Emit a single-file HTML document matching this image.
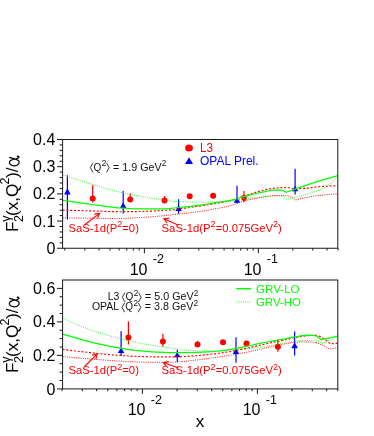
<!DOCTYPE html>
<html><head><meta charset="utf-8"><title>F2 gamma</title>
<style>html,body{margin:0;padding:0;background:#fff;}body{width:374px;height:436px;overflow:hidden;font-family:"Liberation Sans",sans-serif;}</style>
</head><body>
<svg width="374" height="436" viewBox="0 0 374 436" style="display:block;will-change:transform;font-family:'Liberation Sans',sans-serif">
<rect width="374" height="436" fill="#fff"/>
<defs><clipPath id="c1"><rect x="62.6" y="139.5" width="275.2" height="108.75"/></clipPath><clipPath id="c2"><rect x="62.6" y="280.0" width="275.2" height="108.89999999999998"/></clipPath></defs>
<line x1="92.7" y1="185.0" x2="92.7" y2="202.5" stroke="#ff0000" stroke-width="1.2"/>
<circle cx="92.7" cy="198.5" r="3.0" fill="#ff0000"/>
<line x1="130.2" y1="193.2" x2="130.2" y2="202.0" stroke="#ff0000" stroke-width="1.2"/>
<circle cx="130.2" cy="199.6" r="3.0" fill="#ff0000"/>
<line x1="164.5" y1="196.0" x2="164.5" y2="202.0" stroke="#ff0000" stroke-width="1.2"/>
<circle cx="164.5" cy="200.4" r="3.0" fill="#ff0000"/>
<circle cx="189.7" cy="196.3" r="3.0" fill="#ff0000"/>
<circle cx="213.1" cy="195.8" r="3.0" fill="#ff0000"/>
<line x1="244.0" y1="191.0" x2="244.0" y2="202" stroke="#ff0000" stroke-width="1.2"/>
<circle cx="244.0" cy="197.9" r="2.8" fill="#ff0000"/>
<line x1="128.4" y1="321.3" x2="128.4" y2="344.6" stroke="#ff0000" stroke-width="1.2"/>
<circle cx="128.4" cy="337.6" r="3.0" fill="#ff0000"/>
<line x1="162.9" y1="333.8" x2="162.9" y2="346.8" stroke="#ff0000" stroke-width="1.2"/>
<circle cx="162.9" cy="341.5" r="3.0" fill="#ff0000"/>
<line x1="197.5" y1="340.8" x2="197.5" y2="344.5" stroke="#ff0000" stroke-width="1.2"/>
<circle cx="197.5" cy="344.5" r="3.0" fill="#ff0000"/>
<circle cx="223.0" cy="342.3" r="3.0" fill="#ff0000"/>
<circle cx="246.5" cy="343.5" r="3.0" fill="#ff0000"/>
<line x1="277.9" y1="339.2" x2="277.9" y2="351.7" stroke="#ff0000" stroke-width="1.2"/>
<circle cx="277.9" cy="346.8" r="3.0" fill="#ff0000"/>
<line x1="67.4" y1="175.2" x2="67.4" y2="219.4" stroke="#0000ff" stroke-width="1.2"/>
<polygon points="67.4,188.29999999999998 64.10000000000001,194.5 70.7,194.5" fill="#0000ff"/>
<line x1="123.2" y1="191.0" x2="123.2" y2="213.4" stroke="#0000ff" stroke-width="1.2"/>
<polygon points="123.2,202.39999999999998 119.9,208.0 126.5,208.0" fill="#0000ff"/>
<line x1="178.6" y1="199.2" x2="178.6" y2="213.7" stroke="#0000ff" stroke-width="1.2"/>
<polygon points="178.6,205.29999999999998 175.29999999999998,211.0 181.9,211.0" fill="#0000ff"/>
<line x1="237.0" y1="185.7" x2="237.0" y2="203.6" stroke="#0000ff" stroke-width="1.2"/>
<polygon points="237.0,197.29999999999998 233.7,202.79999999999998 240.3,202.79999999999998" fill="#0000ff"/>
<line x1="295.1" y1="168.8" x2="295.1" y2="194.5" stroke="#0000ff" stroke-width="1.2"/>
<polygon points="295.1,185.89999999999998 291.8,191.2 298.40000000000003,191.2" fill="#0000ff"/>
<line x1="121.1" y1="331.3" x2="121.1" y2="356.0" stroke="#0000ff" stroke-width="1.2"/>
<polygon points="121.1,347.4 117.8,353.0 124.39999999999999,353.0" fill="#0000ff"/>
<line x1="177.3" y1="349.4" x2="177.3" y2="362.3" stroke="#0000ff" stroke-width="1.2"/>
<polygon points="177.3,352.2 174.0,357.2 180.60000000000002,357.2" fill="#0000ff"/>
<line x1="236.0" y1="337.2" x2="236.0" y2="362.7" stroke="#0000ff" stroke-width="1.2"/>
<polygon points="236.0,348.59999999999997 232.7,353.9 239.3,353.9" fill="#0000ff"/>
<line x1="294.6" y1="331.6" x2="294.6" y2="355.4" stroke="#0000ff" stroke-width="1.2"/>
<polygon points="294.6,342.2 291.3,348.2 297.90000000000003,348.2" fill="#0000ff"/>
<g clip-path="url(#c1)">
<polyline points="62.6,174.7 63.0,174.8 63.4,174.9 63.8,175.1 64.2,175.2 71.3,177.5 78.5,179.9 85.6,182.3 92.7,184.5 99.0,186.4 105.3,188.3 111.7,190.1 118.0,191.7 124.0,193.1 130.0,194.3 136.0,195.5 142.0,196.6 147.6,197.6 153.2,198.4 158.8,199.3 164.4,200.1 166.8,200.5 169.2,200.9 171.6,201.2 174.0,201.4 179.6,201.7 185.2,201.9 190.9,202.0 196.5,202.1 200.2,202.1 203.9,202.1 207.7,202.1 211.4,202.1 216.1,202.0 220.7,201.8 225.3,201.4 230.0,201.0 233.8,200.5 237.5,199.8 241.2,199.1 245.0,198.6 248.8,198.3 252.5,198.0 256.2,197.8 260.0,197.5 263.8,197.0 267.5,196.5 271.2,196.0 275.0,195.8 276.9,195.8 278.7,195.8 280.5,195.9 282.4,196.0" fill="none" stroke="#00ff00" stroke-width="0.85" stroke-dasharray="1.0 1.25"/>
<polyline points="282.4,196.0 284.5,197.6 286.6,199.5 290.5,198.6 301.0,195.9 308.5,193.6 316.0,191.4 321.5,189.2 326.4,186.5 332.4,182.2 337.8,177.4" fill="none" stroke="#00ff00" stroke-width="0.85" stroke-dasharray="1.0 1.25"/>
<polyline points="62.6,217.9 70.1,218.0 77.7,218.0 85.2,218.1 92.7,218.2 99.0,218.3 105.3,218.4 111.7,218.5 118.0,218.5 123.6,218.4 129.2,218.2 134.9,217.9 140.5,217.6 146.1,217.3 151.8,216.8 157.4,216.3 163.0,215.8 165.8,215.5 168.5,215.2 171.2,214.8 174.0,214.5 179.6,213.9 185.2,213.3 190.9,212.6 196.5,211.9 202.1,211.1 207.7,210.2 213.3,209.2 218.9,208.2 221.7,207.7 224.4,207.1 227.2,206.5 230.0,205.8 233.8,204.7 237.5,203.3 241.2,201.9 245.0,200.8 248.8,199.9 252.5,199.0 256.2,198.3 260.0,197.6 263.8,196.9 267.5,196.3 271.2,195.8 275.0,195.6 277.8,195.6 280.5,195.6 283.2,195.6 286.0,195.6 287.5,195.8 289.0,196.2 290.5,196.8 292.0,197.4" fill="none" stroke="#ff0000" stroke-width="0.95" stroke-dasharray="1.0 1.25"/>
<polyline points="292.0,197.4 295.7,200.1 301.0,198.6 316.0,195.7 337.8,193.7" fill="none" stroke="#ff0000" stroke-width="0.95" stroke-dasharray="1.0 1.25"/>
<polyline points="62.6,210.1 70.1,210.3 77.7,210.5 85.2,210.7 92.7,210.9 99.0,211.1 105.3,211.4 111.7,211.6 118.0,211.7 123.6,211.7 129.2,211.6 134.9,211.6 140.5,211.5 146.1,211.4 151.8,211.1 157.4,210.8 163.0,210.5 165.8,210.3 168.5,210.2 171.2,209.9 174.0,209.7 175.9,209.5 177.8,209.2 179.6,208.9 181.5,208.6 185.2,208.1 189.0,207.6 192.8,207.0 196.5,206.5 202.1,205.7 207.7,204.8 213.3,203.9 218.9,202.9 221.7,202.4 224.4,201.9 227.2,201.3 230.0,200.7 233.8,199.6 237.5,198.4 241.2,197.1 245.0,195.8 248.8,194.6 252.5,193.3 256.2,192.1 260.0,191.1 263.8,190.2 267.5,189.3 271.2,188.6 275.0,188.1 277.8,187.9 280.5,187.7 283.2,187.6 286.0,187.5 288.2,187.7 290.5,188.1 292.8,188.5 295.0,188.7 298.4,188.7 301.8,188.5 305.1,188.3 308.5,188.1 310.4,187.9 312.2,187.6 314.1,187.3 316.0,187.1 319.8,186.7 323.5,186.4 327.2,186.1 331.0,185.9 332.7,185.9 334.4,185.8 336.1,185.8 337.8,185.8" fill="none" stroke="#ff0000" stroke-width="1.15" stroke-dasharray="2.0 1.8"/>
<polyline points="62.6,200.4 63.2,200.5 63.8,200.5 64.4,200.6 65.0,200.7 71.9,201.6 78.8,202.6 85.8,203.6 92.7,204.5 99.0,205.4 105.3,206.3 111.7,207.2 118.0,207.8 123.6,208.2 129.2,208.5 134.9,208.8 140.5,208.9 146.1,208.9 151.8,208.9 157.4,208.9 163.0,208.9 165.8,208.8 168.5,208.6 171.2,208.3 174.0,208.0 179.6,207.5 185.2,206.9 190.9,206.3 196.5,205.6 202.1,204.8 207.7,204.0 213.3,203.1 218.9,202.2 221.7,201.8 224.4,201.4 227.2,200.9 230.0,200.4 233.8,199.5 237.5,198.5 241.2,197.3 245.0,196.3 248.8,195.3 252.5,194.4 256.2,193.5 260.0,192.7 263.8,191.9 267.5,191.0 271.2,190.4 275.0,190.1 276.7,190.1 278.4,190.1 280.0,190.1 281.7,190.1" fill="none" stroke="#00ff00" stroke-width="1.2" stroke-linejoin="round"/>
<polyline points="281.7,190.1 286.2,192.3 295.0,189.1 316.0,181.9 337.8,175.6" fill="none" stroke="#00ff00" stroke-width="1.2" stroke-linejoin="round"/>
</g>
<g clip-path="url(#c2)">
<polyline points="62.6,317.9 66.2,319.7 69.8,321.5 73.4,323.1 77.0,324.7 80.8,326.2 84.5,327.7 88.2,329.1 92.0,330.4 95.8,331.7 99.5,332.9 103.2,334.1 107.0,335.2 109.8,335.9 112.5,336.6 115.2,337.3 118.0,338.0 123.6,339.4 129.2,340.8 134.9,342.1 140.5,343.3 146.1,344.3 151.8,345.3 157.4,346.1 163.0,347.0 165.8,347.4 168.5,347.8 171.2,348.2 174.0,348.6 177.8,349.1 181.5,349.6 185.2,350.1 189.0,350.4 192.8,350.6 196.5,350.8 200.2,350.9 204.0,351.0 207.8,351.0 211.5,351.0 215.2,350.9 219.0,350.9 221.8,350.8 224.5,350.6 227.2,350.4 230.0,350.2 233.8,349.9 237.5,349.6 241.2,349.3 245.0,349.0 248.8,348.6 252.5,348.2 256.2,347.7 260.0,347.2 263.8,346.6 267.5,346.0 271.2,345.3 275.0,344.6 277.8,344.1 280.5,343.6 283.2,343.2 286.0,342.7 288.2,342.3 290.5,341.9 292.8,341.5 295.0,341.2 298.4,340.9 301.8,340.6 305.1,340.5 308.5,340.4 310.4,340.4 312.2,340.5 314.1,340.6 316.0,340.7" fill="none" stroke="#00ff00" stroke-width="0.85" stroke-dasharray="1.0 1.25"/>
<polyline points="316.0,340.7 319.0,341.9 322.0,343.4 326.5,341.7 331.0,339.7 337.8,336.7" fill="none" stroke="#00ff00" stroke-width="0.85" stroke-dasharray="1.0 1.25"/>
<polyline points="62.6,356.6 70.0,357.3 77.3,357.9 84.7,358.5 92.0,359.1 98.5,359.6 105.0,360.1 111.5,360.6 118.0,361.0 123.6,361.3 129.2,361.7 134.9,361.9 140.5,362.1 146.1,362.2 151.8,362.3 157.4,362.4 163.0,362.4 165.8,362.4 168.5,362.3 171.2,362.2 174.0,362.1 179.6,361.8 185.2,361.3 190.9,360.6 196.5,360.0 202.1,359.3 207.8,358.5 213.4,357.7 219.0,356.9 221.8,356.5 224.5,356.1 227.2,355.6 230.0,355.2 233.8,354.6 237.5,354.0 241.2,353.3 245.0,352.6 248.8,351.8 252.5,351.0 256.2,350.2 260.0,349.3 263.8,348.4 267.5,347.5 271.2,346.6 275.0,345.8 277.8,345.2 280.5,344.7 283.2,344.2 286.0,343.7 288.2,343.3 290.5,342.9 292.8,342.5 295.0,342.3 298.4,342.1 301.8,342.0 305.1,341.9 308.5,341.9 310.4,342.0 312.2,342.2 314.1,342.4 316.0,342.7" fill="none" stroke="#ff0000" stroke-width="0.95" stroke-dasharray="1.0 1.25"/>
<polyline points="316.0,342.7 319.5,344.0 323.4,345.7 326.5,347.3 329.4,349.1 337.8,347.6" fill="none" stroke="#ff0000" stroke-width="0.95" stroke-dasharray="1.0 1.25"/>
<polyline points="62.6,349.4 70.0,350.3 77.3,351.2 84.7,352.0 92.0,352.8 98.5,353.5 105.0,354.2 111.5,354.8 118.0,355.3 123.6,355.7 129.2,356.0 134.9,356.3 140.5,356.5 146.1,356.6 151.8,356.8 157.4,356.9 163.0,356.9 165.8,356.9 168.5,356.9 171.2,356.9 174.0,356.9 179.6,356.8 185.2,356.5 190.9,356.1 196.5,355.7 202.1,355.2 207.8,354.6 213.4,353.9 219.0,353.2 221.8,352.8 224.5,352.5 227.2,352.0 230.0,351.6 233.8,350.9 237.5,350.2 241.2,349.4 245.0,348.6 248.8,347.8 252.5,346.9 256.2,346.1 260.0,345.2 263.8,344.4 267.5,343.5 271.2,342.7 275.0,341.9 277.8,341.3 280.5,340.8 283.2,340.3 286.0,339.7 288.2,339.2 290.5,338.6 292.8,338.0 295.0,337.5 298.4,336.9 301.8,336.3 305.1,335.9 308.5,335.6 310.4,335.5 312.2,335.4 314.1,335.3 316.0,335.3 316.8,335.4 317.5,335.5 318.2,335.8 319.0,336.0" fill="none" stroke="#ff0000" stroke-width="1.15" stroke-dasharray="2.0 1.8"/>
<polyline points="319.0,336.0 322.5,338.0 326.4,340.4 330.2,343.7 337.8,343.4" fill="none" stroke="#ff0000" stroke-width="1.15" stroke-dasharray="2.0 1.8"/>
<polyline points="62.6,334.2 66.2,335.2 69.8,336.2 73.4,337.2 77.0,338.2 80.8,339.3 84.5,340.4 88.2,341.4 92.0,342.4 95.8,343.3 99.5,344.1 103.2,344.9 107.0,345.7 109.8,346.3 112.5,346.8 115.2,347.3 118.0,347.8 123.6,348.7 129.2,349.6 134.9,350.3 140.5,350.9 146.1,351.4 151.8,351.8 157.4,352.1 163.0,352.4 165.8,352.5 168.5,352.6 171.2,352.7 174.0,352.7 179.6,352.7 185.2,352.6 190.9,352.5 196.5,352.4 202.1,352.2 207.8,351.9 213.4,351.5 219.0,351.0 221.8,350.7 224.5,350.3 227.2,349.9 230.0,349.4 233.8,348.8 237.5,348.1 241.2,347.3 245.0,346.6 248.8,345.8 252.5,345.0 256.2,344.2 260.0,343.4 263.8,342.7 267.5,342.0 271.2,341.3 275.0,340.6 277.8,340.1 280.5,339.7 283.2,339.2 286.0,338.7 288.2,338.2 290.5,337.7 292.8,337.2 295.0,336.8 298.4,336.3 301.8,335.7 305.1,335.4 308.5,335.2 310.4,335.3 312.2,335.4 314.1,335.7 316.0,336.0" fill="none" stroke="#00ff00" stroke-width="1.2" stroke-linejoin="round"/>
<polyline points="316.0,336.0 318.8,337.8 321.3,339.7 326.0,338.7 331.0,337.7 337.8,336.0" fill="none" stroke="#00ff00" stroke-width="1.2" stroke-linejoin="round"/>
</g>
<rect x="62.6" y="139.5" width="275.2" height="108.75" fill="none" stroke="#1a1a1a" stroke-width="1.0"/>
<rect x="62.6" y="280.0" width="275.2" height="108.89999999999998" fill="none" stroke="#1a1a1a" stroke-width="1.0"/>
<line x1="57.0" y1="248.25" x2="62.6" y2="248.25" stroke="#1a1a1a" stroke-width="1"/>
<line x1="59.6" y1="242.81" x2="62.6" y2="242.81" stroke="#1a1a1a" stroke-width="1"/>
<line x1="59.6" y1="237.38" x2="62.6" y2="237.38" stroke="#1a1a1a" stroke-width="1"/>
<line x1="59.6" y1="231.94" x2="62.6" y2="231.94" stroke="#1a1a1a" stroke-width="1"/>
<line x1="59.6" y1="226.50" x2="62.6" y2="226.50" stroke="#1a1a1a" stroke-width="1"/>
<line x1="57.0" y1="221.06" x2="62.6" y2="221.06" stroke="#1a1a1a" stroke-width="1"/>
<line x1="59.6" y1="215.62" x2="62.6" y2="215.62" stroke="#1a1a1a" stroke-width="1"/>
<line x1="59.6" y1="210.19" x2="62.6" y2="210.19" stroke="#1a1a1a" stroke-width="1"/>
<line x1="59.6" y1="204.75" x2="62.6" y2="204.75" stroke="#1a1a1a" stroke-width="1"/>
<line x1="59.6" y1="199.31" x2="62.6" y2="199.31" stroke="#1a1a1a" stroke-width="1"/>
<line x1="57.0" y1="193.88" x2="62.6" y2="193.88" stroke="#1a1a1a" stroke-width="1"/>
<line x1="59.6" y1="188.44" x2="62.6" y2="188.44" stroke="#1a1a1a" stroke-width="1"/>
<line x1="59.6" y1="183.00" x2="62.6" y2="183.00" stroke="#1a1a1a" stroke-width="1"/>
<line x1="59.6" y1="177.56" x2="62.6" y2="177.56" stroke="#1a1a1a" stroke-width="1"/>
<line x1="59.6" y1="172.12" x2="62.6" y2="172.12" stroke="#1a1a1a" stroke-width="1"/>
<line x1="57.0" y1="166.69" x2="62.6" y2="166.69" stroke="#1a1a1a" stroke-width="1"/>
<line x1="59.6" y1="161.25" x2="62.6" y2="161.25" stroke="#1a1a1a" stroke-width="1"/>
<line x1="59.6" y1="155.81" x2="62.6" y2="155.81" stroke="#1a1a1a" stroke-width="1"/>
<line x1="59.6" y1="150.38" x2="62.6" y2="150.38" stroke="#1a1a1a" stroke-width="1"/>
<line x1="59.6" y1="144.94" x2="62.6" y2="144.94" stroke="#1a1a1a" stroke-width="1"/>
<line x1="57.0" y1="139.50" x2="62.6" y2="139.50" stroke="#1a1a1a" stroke-width="1"/>
<line x1="57.0" y1="388.90" x2="62.6" y2="388.90" stroke="#1a1a1a" stroke-width="1"/>
<line x1="59.6" y1="380.52" x2="62.6" y2="380.52" stroke="#1a1a1a" stroke-width="1"/>
<line x1="59.6" y1="372.15" x2="62.6" y2="372.15" stroke="#1a1a1a" stroke-width="1"/>
<line x1="59.6" y1="363.77" x2="62.6" y2="363.77" stroke="#1a1a1a" stroke-width="1"/>
<line x1="57.0" y1="355.39" x2="62.6" y2="355.39" stroke="#1a1a1a" stroke-width="1"/>
<line x1="59.6" y1="347.02" x2="62.6" y2="347.02" stroke="#1a1a1a" stroke-width="1"/>
<line x1="59.6" y1="338.64" x2="62.6" y2="338.64" stroke="#1a1a1a" stroke-width="1"/>
<line x1="59.6" y1="330.26" x2="62.6" y2="330.26" stroke="#1a1a1a" stroke-width="1"/>
<line x1="57.0" y1="321.88" x2="62.6" y2="321.88" stroke="#1a1a1a" stroke-width="1"/>
<line x1="59.6" y1="313.51" x2="62.6" y2="313.51" stroke="#1a1a1a" stroke-width="1"/>
<line x1="59.6" y1="305.13" x2="62.6" y2="305.13" stroke="#1a1a1a" stroke-width="1"/>
<line x1="59.6" y1="296.75" x2="62.6" y2="296.75" stroke="#1a1a1a" stroke-width="1"/>
<line x1="57.0" y1="288.38" x2="62.6" y2="288.38" stroke="#1a1a1a" stroke-width="1"/>
<line x1="64.72" y1="248.25" x2="64.72" y2="250.55" stroke="#1a1a1a" stroke-width="1"/>
<line x1="84.79" y1="248.25" x2="84.79" y2="250.55" stroke="#1a1a1a" stroke-width="1"/>
<line x1="99.03" y1="248.25" x2="99.03" y2="250.55" stroke="#1a1a1a" stroke-width="1"/>
<line x1="110.08" y1="248.25" x2="110.08" y2="250.55" stroke="#1a1a1a" stroke-width="1"/>
<line x1="119.11" y1="248.25" x2="119.11" y2="250.55" stroke="#1a1a1a" stroke-width="1"/>
<line x1="126.74" y1="248.25" x2="126.74" y2="250.55" stroke="#1a1a1a" stroke-width="1"/>
<line x1="133.35" y1="248.25" x2="133.35" y2="250.55" stroke="#1a1a1a" stroke-width="1"/>
<line x1="139.18" y1="248.25" x2="139.18" y2="250.55" stroke="#1a1a1a" stroke-width="1"/>
<line x1="144.40" y1="248.25" x2="144.40" y2="253.25" stroke="#1a1a1a" stroke-width="1"/>
<line x1="178.72" y1="248.25" x2="178.72" y2="250.55" stroke="#1a1a1a" stroke-width="1"/>
<line x1="198.79" y1="248.25" x2="198.79" y2="250.55" stroke="#1a1a1a" stroke-width="1"/>
<line x1="213.03" y1="248.25" x2="213.03" y2="250.55" stroke="#1a1a1a" stroke-width="1"/>
<line x1="224.08" y1="248.25" x2="224.08" y2="250.55" stroke="#1a1a1a" stroke-width="1"/>
<line x1="233.11" y1="248.25" x2="233.11" y2="250.55" stroke="#1a1a1a" stroke-width="1"/>
<line x1="240.74" y1="248.25" x2="240.74" y2="250.55" stroke="#1a1a1a" stroke-width="1"/>
<line x1="247.35" y1="248.25" x2="247.35" y2="250.55" stroke="#1a1a1a" stroke-width="1"/>
<line x1="253.18" y1="248.25" x2="253.18" y2="250.55" stroke="#1a1a1a" stroke-width="1"/>
<line x1="258.40" y1="248.25" x2="258.40" y2="253.25" stroke="#1a1a1a" stroke-width="1"/>
<line x1="292.72" y1="248.25" x2="292.72" y2="250.55" stroke="#1a1a1a" stroke-width="1"/>
<line x1="312.79" y1="248.25" x2="312.79" y2="250.55" stroke="#1a1a1a" stroke-width="1"/>
<line x1="327.03" y1="248.25" x2="327.03" y2="250.55" stroke="#1a1a1a" stroke-width="1"/>
<line x1="338.08" y1="248.25" x2="338.08" y2="250.55" stroke="#1a1a1a" stroke-width="1"/>
<line x1="62.02" y1="388.9" x2="62.02" y2="391.2" stroke="#1a1a1a" stroke-width="1"/>
<line x1="82.27" y1="388.9" x2="82.27" y2="391.2" stroke="#1a1a1a" stroke-width="1"/>
<line x1="96.64" y1="388.9" x2="96.64" y2="391.2" stroke="#1a1a1a" stroke-width="1"/>
<line x1="107.78" y1="388.9" x2="107.78" y2="391.2" stroke="#1a1a1a" stroke-width="1"/>
<line x1="116.89" y1="388.9" x2="116.89" y2="391.2" stroke="#1a1a1a" stroke-width="1"/>
<line x1="124.59" y1="388.9" x2="124.59" y2="391.2" stroke="#1a1a1a" stroke-width="1"/>
<line x1="131.26" y1="388.9" x2="131.26" y2="391.2" stroke="#1a1a1a" stroke-width="1"/>
<line x1="137.14" y1="388.9" x2="137.14" y2="391.2" stroke="#1a1a1a" stroke-width="1"/>
<line x1="142.40" y1="388.9" x2="142.40" y2="393.9" stroke="#1a1a1a" stroke-width="1"/>
<line x1="177.02" y1="388.9" x2="177.02" y2="391.2" stroke="#1a1a1a" stroke-width="1"/>
<line x1="197.27" y1="388.9" x2="197.27" y2="391.2" stroke="#1a1a1a" stroke-width="1"/>
<line x1="211.64" y1="388.9" x2="211.64" y2="391.2" stroke="#1a1a1a" stroke-width="1"/>
<line x1="222.78" y1="388.9" x2="222.78" y2="391.2" stroke="#1a1a1a" stroke-width="1"/>
<line x1="231.89" y1="388.9" x2="231.89" y2="391.2" stroke="#1a1a1a" stroke-width="1"/>
<line x1="239.59" y1="388.9" x2="239.59" y2="391.2" stroke="#1a1a1a" stroke-width="1"/>
<line x1="246.26" y1="388.9" x2="246.26" y2="391.2" stroke="#1a1a1a" stroke-width="1"/>
<line x1="252.14" y1="388.9" x2="252.14" y2="391.2" stroke="#1a1a1a" stroke-width="1"/>
<line x1="257.40" y1="388.9" x2="257.40" y2="393.9" stroke="#1a1a1a" stroke-width="1"/>
<line x1="292.02" y1="388.9" x2="292.02" y2="391.2" stroke="#1a1a1a" stroke-width="1"/>
<line x1="312.27" y1="388.9" x2="312.27" y2="391.2" stroke="#1a1a1a" stroke-width="1"/>
<line x1="326.64" y1="388.9" x2="326.64" y2="391.2" stroke="#1a1a1a" stroke-width="1"/>
<line x1="337.78" y1="388.9" x2="337.78" y2="391.2" stroke="#1a1a1a" stroke-width="1"/>
<text x="55.3" y="253.85" font-size="16" fill="#000" text-anchor="end" >0</text>
<text x="55.3" y="226.6625" font-size="16" fill="#000" text-anchor="end" >0.1</text>
<text x="55.3" y="199.475" font-size="16" fill="#000" text-anchor="end" >0.2</text>
<text x="55.3" y="172.2875" font-size="16" fill="#000" text-anchor="end" >0.3</text>
<text x="55.3" y="145.1" font-size="16" fill="#000" text-anchor="end" >0.4</text>
<text x="55.3" y="394.5" font-size="16" fill="#000" text-anchor="end" >0</text>
<text x="55.3" y="360.9923076923077" font-size="16" fill="#000" text-anchor="end" >0.2</text>
<text x="55.3" y="327.4846153846154" font-size="16" fill="#000" text-anchor="end" >0.4</text>
<text x="55.3" y="293.9769230769231" font-size="16" fill="#000" text-anchor="end" >0.6</text>
<text x="129.70000000000002" y="275.05" font-size="16" fill="#000" text-anchor="start" >10</text>
<text x="152.8" y="263.35" font-size="12.5" fill="#000" text-anchor="start" >-2</text>
<text x="243.7" y="275.05" font-size="16" fill="#000" text-anchor="start" >10</text>
<text x="266.79999999999995" y="263.35" font-size="12.5" fill="#000" text-anchor="start" >-1</text>
<text x="127.7" y="414.8" font-size="16" fill="#000" text-anchor="start" >10</text>
<text x="150.8" y="403.73" font-size="12.5" fill="#000" text-anchor="start" >-2</text>
<text x="242.7" y="414.8" font-size="16" fill="#000" text-anchor="start" >10</text>
<text x="265.79999999999995" y="403.73" font-size="12.5" fill="#000" text-anchor="start" >-1</text>
<text x="195.8" y="427.0" font-size="17" fill="#000" text-anchor="start" >x</text>
<text transform="translate(18.0,232.0) rotate(-90)" font-size="17.2" fill="#000" >F</text>
<text transform="translate(22.6,222.1) rotate(-90)" font-size="12.5" fill="#000" >2</text>
<text transform="translate(9.8,221.7) rotate(-90)" font-size="12.5" fill="#000" >γ</text>
<text transform="translate(18.0,216.0) rotate(-90)" font-size="17.2" fill="#000" >(x,Q</text>
<text transform="translate(9.3,184.5) rotate(-90)" font-size="12.5" fill="#000" >2</text>
<text transform="translate(18.0,178.0) rotate(-90)" font-size="17.2" fill="#000" >)/</text>
<path transform="translate(0,0)" d="M 9.7,157.4 C 12.5,158.2 16,159 18,160.3 C 19.5,161.3 19.3,163 18.5,164 C 17.5,165.5 15.5,165.9 14.2,165.9 C 12.5,165.9 10.5,165.3 9.7,163.8 C 9,162.3 9.6,160.8 11.2,160.1 C 13,159.3 15,159.3 16.5,158.8 C 18,158.3 19.2,157.8 18.9,157 C 18.6,156.3 17.8,156.2 17.3,156.4" fill="none" stroke="#000" stroke-width="1.25" stroke-linecap="round"/>
<text transform="translate(18.0,373.0) rotate(-90)" font-size="17.2" fill="#000" >F</text>
<text transform="translate(22.6,363.1) rotate(-90)" font-size="12.5" fill="#000" >2</text>
<text transform="translate(9.8,362.7) rotate(-90)" font-size="12.5" fill="#000" >γ</text>
<text transform="translate(18.0,357.0) rotate(-90)" font-size="17.2" fill="#000" >(x,Q</text>
<text transform="translate(9.3,325.5) rotate(-90)" font-size="12.5" fill="#000" >2</text>
<text transform="translate(18.0,319.0) rotate(-90)" font-size="17.2" fill="#000" >)/</text>
<path transform="translate(0,141)" d="M 9.7,157.4 C 12.5,158.2 16,159 18,160.3 C 19.5,161.3 19.3,163 18.5,164 C 17.5,165.5 15.5,165.9 14.2,165.9 C 12.5,165.9 10.5,165.3 9.7,163.8 C 9,162.3 9.6,160.8 11.2,160.1 C 13,159.3 15,159.3 16.5,158.8 C 18,158.3 19.2,157.8 18.9,157 C 18.6,156.3 17.8,156.2 17.3,156.4" fill="none" stroke="#000" stroke-width="1.25" stroke-linecap="round"/>
<ellipse cx="189.0" cy="148.1" rx="3.9" ry="3.5" fill="#ff0000"/>
<text x="200.0" y="151.8" font-size="12" fill="#ff0000" text-anchor="start" textLength="13.0" lengthAdjust="spacingAndGlyphs">L3</text>
<polygon points="189.0,157.2 185.0,164.0 193.0,164.0" fill="#0000ff"/>
<text x="200.0" y="164.8" font-size="12" fill="#0000ff" text-anchor="start" textLength="58.6" lengthAdjust="spacingAndGlyphs">OPAL Prel.</text>
<polyline points="93.0,162.9 90.3,167.6 93.0,172.3" fill="none" stroke="#111" stroke-width="0.85"/>
<polyline points="106.5,162.9 109.2,167.6 106.5,172.3" fill="none" stroke="#111" stroke-width="0.85"/>
<text x="93.6" y="170.5" font-size="10" fill="#111">Q</text>
<text x="101.7" y="166.1" font-size="8.2" fill="#111">2</text>
<text x="113.1" y="170.5" font-size="10" fill="#111" textLength="48.6" lengthAdjust="spacingAndGlyphs">= 1.9 GeV</text>
<text x="161.7" y="166.1" font-size="8.2" fill="#111">2</text>
<polyline points="125.0,292.59999999999997 122.3,297.3 125.0,302.0" fill="none" stroke="#111" stroke-width="0.85"/>
<polyline points="138.5,292.59999999999997 141.2,297.3 138.5,302.0" fill="none" stroke="#111" stroke-width="0.85"/>
<text x="125.6" y="300.2" font-size="10" fill="#111">Q</text>
<text x="133.7" y="295.8" font-size="8.2" fill="#111">2</text>
<text x="145.1" y="300.2" font-size="10" fill="#111" textLength="48.6" lengthAdjust="spacingAndGlyphs">= 5.0 GeV</text>
<text x="193.7" y="295.8" font-size="8.2" fill="#111">2</text>
<text x="119.4" y="300.2" font-size="10" fill="#111" text-anchor="end" textLength="11.6" lengthAdjust="spacingAndGlyphs">L3</text>
<polyline points="124.7,302.79999999999995 122.0,307.5 124.7,312.2" fill="none" stroke="#111" stroke-width="0.85"/>
<polyline points="138.2,302.79999999999995 140.9,307.5 138.2,312.2" fill="none" stroke="#111" stroke-width="0.85"/>
<text x="125.3" y="310.4" font-size="10" fill="#111">Q</text>
<text x="133.4" y="306.0" font-size="8.2" fill="#111">2</text>
<text x="144.79999999999998" y="310.4" font-size="10" fill="#111" textLength="48.6" lengthAdjust="spacingAndGlyphs">= 3.8 GeV</text>
<text x="193.39999999999998" y="306.0" font-size="8.2" fill="#111">2</text>
<text x="119.10000000000001" y="310.4" font-size="10" fill="#111" text-anchor="end" textLength="27.2" lengthAdjust="spacingAndGlyphs">OPAL</text>
<line x1="236.2" y1="288.7" x2="251.2" y2="288.7" stroke="#00ff00" stroke-width="1.5"/>
<line x1="236.2" y1="301.9" x2="251.2" y2="301.9" stroke="#00ff00" stroke-width="0.85" stroke-dasharray="1.0 1.25"/>
<text x="256.0" y="292.5" font-size="11.8" fill="#00ff00" text-anchor="start" textLength="43.6" lengthAdjust="spacingAndGlyphs">GRV-LO</text>
<text x="256.0" y="305.7" font-size="11.8" fill="#00ff00" text-anchor="start" textLength="44.8" lengthAdjust="spacingAndGlyphs">GRV-HO</text>
<text x="68.4" y="231.7" font-size="10.6" fill="#ff0000" textLength="70.5" lengthAdjust="spacingAndGlyphs">SaS-1d(P<tspan dy="-4.4" font-size="8.6">2</tspan><tspan dy="4.4">=0)</tspan></text>
<text x="161.6" y="231.7" font-size="10.6" fill="#ff0000" textLength="120.3" lengthAdjust="spacingAndGlyphs">SaS-1d(P<tspan dy="-4.4" font-size="8.6">2</tspan><tspan dy="4.4">=0.075GeV</tspan><tspan dy="-4.4" font-size="8.6">2</tspan><tspan dy="4.4">)</tspan></text>
<line x1="84.6" y1="224.8" x2="99.6" y2="213.4" stroke="#ff0000" stroke-width="1.1"/>
<polyline points="94.2,214.1 99.6,213.4 97.5,218.4" fill="none" stroke="#ff0000" stroke-width="1.1"/>
<line x1="178.5" y1="225.3" x2="164.0" y2="218.7" stroke="#ff0000" stroke-width="1.1"/>
<polyline points="167.1,223.1 164.0,218.7 169.4,218.2" fill="none" stroke="#ff0000" stroke-width="1.1"/>
<text x="68.4" y="374.0" font-size="10.6" fill="#ff0000" textLength="70.5" lengthAdjust="spacingAndGlyphs">SaS-1d(P<tspan dy="-4.4" font-size="8.6">2</tspan><tspan dy="4.4">=0)</tspan></text>
<text x="161.6" y="374.0" font-size="10.6" fill="#ff0000" textLength="120.3" lengthAdjust="spacingAndGlyphs">SaS-1d(P<tspan dy="-4.4" font-size="8.6">2</tspan><tspan dy="4.4">=0.075GeV</tspan><tspan dy="-4.4" font-size="8.6">2</tspan><tspan dy="4.4">)</tspan></text>
<line x1="84.6" y1="366.5" x2="97.2" y2="353.9" stroke="#ff0000" stroke-width="1.1"/>
<polyline points="92.0,355.3 97.2,353.9 95.8,359.1" fill="none" stroke="#ff0000" stroke-width="1.1"/>
<line x1="178.5" y1="368.0" x2="163.2" y2="362.6" stroke="#ff0000" stroke-width="1.1"/>
<polyline points="166.7,366.7 163.2,362.6 168.5,361.6" fill="none" stroke="#ff0000" stroke-width="1.1"/>
</svg>
</body></html>
